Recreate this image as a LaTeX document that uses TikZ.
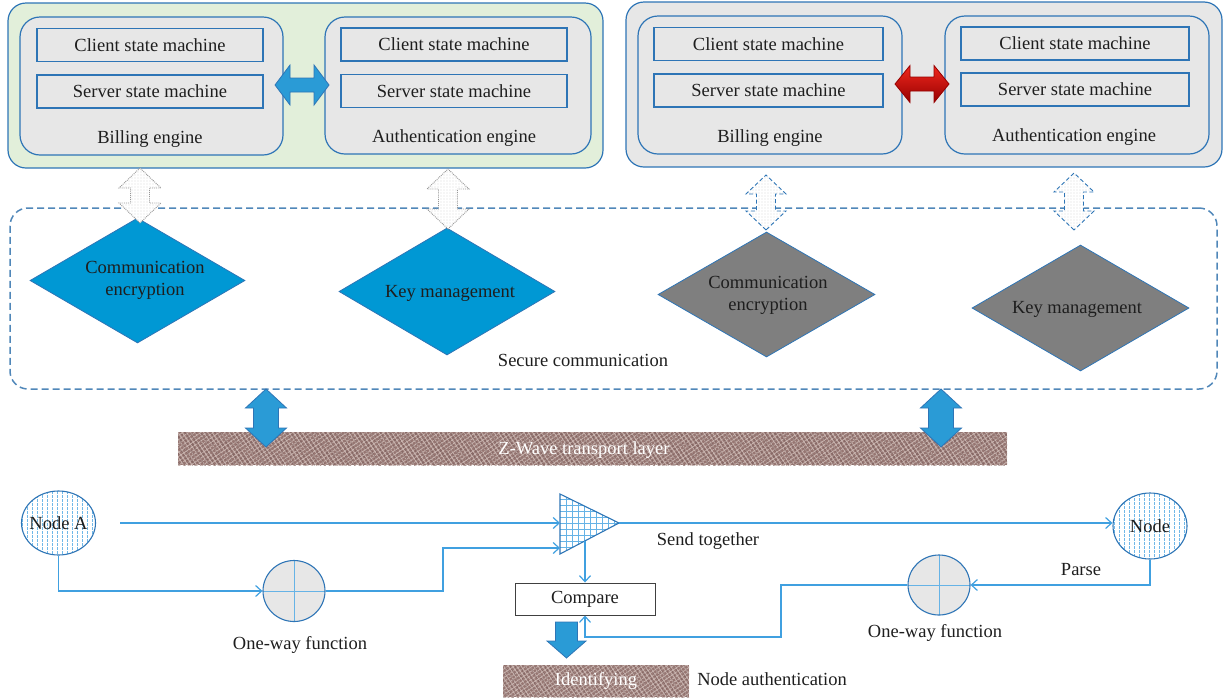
\documentclass[tikz,border=0pt]{standalone}
\usepackage{fontspec}
\setmainfont{Liberation Serif}
\usetikzlibrary{shapes.geometric,arrows.meta,patterns,patterns.meta,calc}
\definecolor{bord}{RGB}{46,117,182}
\definecolor{greenfill}{RGB}{226,239,218}
\definecolor{boxgray}{RGB}{231,231,231}
\definecolor{dblue}{RGB}{0,152,212}
\definecolor{dgray}{RGB}{127,127,127}
\definecolor{ablue}{RGB}{42,155,214}
\definecolor{sdash}{RGB}{80,135,185}
\definecolor{connc}{RGB}{64,160,224}
\definecolor{redtop}{RGB}{240,40,30}
\definecolor{redbot}{RGB}{150,0,0}
\definecolor{barbase}{RGB}{150,118,114}
\definecolor{barlight}{RGB}{200,180,175}
\definecolor{bardark}{RGB}{110,82,80}
\definecolor{dotc}{RGB}{150,150,150}
\definecolor{txt}{RGB}{30,30,30}
\newcommand{\dfont}{\fontsize{18.5}{22}\selectfont}
% block double arrow: #1 style, #2 centre coordinate, #3 half length, #4 head half width, #5 shaft half width, #6 head length, #7 rotation
\newcommand{\blockdbl}[7]{%
  \draw[#1, shift={(#2)}, rotate=#7] (-#3,0) -- (-#3+#6,-#4) -- (-#3+#6,-#5) -- (#3-#6,-#5) -- (#3-#6,-#4) -- (#3,0)
     -- (#3-#6,#4) -- (#3-#6,#5) -- (-#3+#6,#5) -- (-#3+#6,#4) -- cycle;}
\begin{document}
\begin{tikzpicture}[x=1pt,y=-1pt,
  panel/.style={draw=bord, line width=1.2pt, rounded corners=18pt, inner sep=0},
  engine/.style={draw=bord, line width=1.2pt, fill=boxgray, rounded corners=20pt, inner sep=0},
  smbox/.style={draw=bord, line width=1.1pt, fill=boxgray, minimum width=226, minimum height=33, inner sep=0, font=\dfont, text=txt},
  lbl/.style={font=\dfont, inner sep=0, text=txt},
  secure/.style={draw=sdash, line width=1.5pt, dash pattern=on 7pt off 4pt, rounded corners=18pt, inner sep=0},
  dia/.style={diamond, aspect=1.72, inner sep=0, draw=bord, line width=0.8pt, font=\dfont, align=center, text=txt},
  dotarrow/.style={draw=dotc, line width=0.9pt, densely dotted, preaction={fill=white}, pattern={Dots[distance=3pt,radius=0.4pt]}, pattern color=dotc},
  dasharrow/.style={draw=bord, line width=0.9pt, dash pattern=on 4pt off 2.5pt, preaction={fill=white}, pattern={Dots[distance=3pt,radius=0.4pt]}, pattern color=dotc},
  barrow/.style={fill=ablue, draw=bord, line width=0.8pt},
  redarrow/.style={top color=redtop, bottom color=redbot, draw=redbot, line width=0.8pt},
  bar/.style={inner sep=0, preaction={fill=barbase}, pattern={Hatch[angle=35,distance=3.5pt,line width=0.8pt]}, pattern color=barlight, postaction={pattern={Lines[angle=-60,distance=4pt,line width=0.6pt]}, pattern color=bardark}},
  ellnode/.style={ellipse, draw=bord, line width=1.1pt, fill=white, inner sep=0,
    path picture={\foreach \i in {-36,-31,...,36}{\draw[draw=connc!75, line width=0.7pt, dash pattern=on 2.5pt off 1.5pt] ($(path picture bounding box.center)+(\i,-40)$) -- ++(0,80);}}},
  owf/.style={ellipse, draw=bord, line width=1.1pt, fill=boxgray, inner sep=0, minimum width=62, minimum height=61,
    path picture={\draw[connc!80, line width=0.6pt] ($(path picture bounding box.center)+(-40,0)$) -- ++(80,0); \draw[connc!80, line width=0.6pt] ($(path picture bounding box.center)+(0,-40)$) -- ++(0,80);}},
  conn/.style={draw=connc, line width=1.2pt, -{Straight Barb[length=6pt,width=11pt,line width=1.2pt]}},
]
\useasboundingbox (0,0) rectangle (1225,697);

% ---------- top left panel
\node[panel, fill=greenfill, minimum width=595, minimum height=165] (gbox) at (305.5,85.5) {};
\node[engine, minimum width=263, minimum height=138] (bill1) at (151.5,86) {};
\node[smbox] (c1) at (150,45) {Client state machine};
\node[smbox] (s1) at (150,91.5) {Server state machine};
\node[lbl] (bl1) at (150,139) {Billing engine};
\node[engine, minimum width=266, minimum height=137] (auth1) at (458,85.5) {};
\node[smbox] (c2) at (454,44.5) {Client state machine};
\node[smbox] (s2) at (454,91) {Server state machine};
\node[lbl] (al1) at (454,138) {Authentication engine};
\coordinate (bh1) at (302,85);
\blockdbl{barrow}{bh1}{27}{20}{7}{15}{0}

% ---------- top right panel
\node[panel, fill=boxgray, minimum width=596, minimum height=165] (rbox) at (924,84.5) {};
\node[engine, minimum width=264, minimum height=138] (bill2) at (770,85) {};
\node[smbox, minimum width=229] (c3) at (768.5,44) {Client state machine};
\node[smbox, minimum width=229] (s3) at (768.5,90.5) {Server state machine};
\node[lbl] (bl2) at (770,138) {Billing engine};
\node[engine, minimum width=264, minimum height=138] (auth2) at (1077,85) {};
\node[smbox, minimum width=228] (c4) at (1075,43.5) {Client state machine};
\node[smbox, minimum width=228] (s4) at (1075,89.5) {Server state machine};
\node[lbl] (al2) at (1074,137) {Authentication engine};
\coordinate (bh2) at (922,84);
\blockdbl{redarrow}{bh2}{27}{18.5}{7}{15}{0}

% ---------- secure communication
\node[secure, minimum width=1207, minimum height=181] (sec) at (613.5,298.5) {};
\node[lbl] (secl) at (583,360) {Secure communication};
\node[dia, fill=dblue, minimum width=215, minimum height=125] (d1) at (137.5,280.5) {};
\node[lbl, align=center] (d1t) at (145,280) {Communication\\encryption};
\node[dia, fill=dblue, minimum width=216, minimum height=127] (d2) at (447,291.5) {};
\node[lbl] (d2t) at (450,293) {Key management};
\node[dia, fill=dgray, minimum width=217, minimum height=125] (d3) at (766.5,294.5) {};
\node[lbl, align=center] (d3t) at (768,295) {Communication\\encryption};
\node[dia, fill=dgray, minimum width=217, minimum height=126] (d4) at (1080.5,308) {};
\node[lbl] (d4t) at (1077,309) {Key management};

\coordinate (v1) at (140,195.5);
\coordinate (v2) at (448,199);
\coordinate (v3) at (766,202.5);
\coordinate (v4) at (1074,201.5);
\blockdbl{dotarrow}{v1}{27.5}{21}{9.5}{20}{90}
\blockdbl{dotarrow}{v2}{30}{21}{9.5}{20}{90}
\blockdbl{dasharrow}{v3}{27.5}{20}{9.5}{19}{90}
\blockdbl{dasharrow}{v4}{28.5}{20}{9.5}{19}{90}

% ---------- transport layer
\node[bar, minimum width=829, minimum height=33] (zw) at (592.5,448.5) {};
\node[font=\dfont, text=white, inner sep=0] (zwt) at (584,450) {Z-Wave transport layer};
\coordinate (va1) at (266,418);
\coordinate (va2) at (941,418);
\blockdbl{barrow}{va1}{29}{20.5}{12.5}{19}{90}
\blockdbl{barrow}{va2}{29}{20.5}{12.5}{19}{90}

% ---------- node authentication
\node[ellnode, minimum width=74, minimum height=64] (nA) at (58.5,523) {};
\node[lbl] (nAt) at (nA) {Node A};
\node[owf] (ow1) at (294,591) {};
\node[lbl] (owl1) at (300,645) {One-way function};
\coordinate (tL) at (560,494);
\coordinate (tB) at (560,554);
\coordinate (tT) at (619,523);
\draw[draw=bord, line width=1.1pt, fill=white,
  path picture={\foreach \xx in {566,572,...,620}{\draw[connc!80, line width=0.7pt] (\xx,490) -- (\xx,560);}
                \foreach \yy in {499,505,...,555}{\draw[connc!80, line width=0.7pt] (555,\yy) -- (625,\yy);}}]
  (tL) -- (tT) -- (tB) -- cycle;
\coordinate (tIn1) at (560,523);
\coordinate (tIn2) at (560,548);
\coordinate (tOut) at (585,541);
\node[draw=black!75, line width=1pt, fill=white, minimum width=140, minimum height=32, inner sep=0, font=\dfont, text=txt] (cmp) at (585,599) {Compare};
\node[ellnode, minimum width=74, minimum height=66] (nB) at (1150,526) {};
\node[lbl] (nBt) at (nB) {Node};
\node[owf, minimum height=60] (ow2) at (939,585) {};
\node[lbl] (owl2) at (935,633) {One-way function};
\node[lbl] (send) at (708,541) {Send together};
\node[lbl] (parse) at (1081,570) {Parse};

\coordinate (j1) at (443,548);
\coordinate (j2) at (781,637);
\draw[conn] ([xshift=24pt]nA.east) -- (tIn1);
\draw[conn] (nA.south) |- (ow1.west);
\draw[conn] (ow1.east) -| (j1) -- (tIn2);
\draw[conn] (tOut) -- (cmp.north);
\draw[conn] (tT) -- (tT -| nB.west);
\draw[conn] (nB.south) |- (ow2.east);
\draw[conn] (ow2.west) -| (j2) -- (j2 -| cmp.south) -- (cmp.south);

\coordinate (dn) at (566.5,622);
\draw[barrow, shift={(dn)}] (-11,0) -- (11,0) -- (11,19) -- (19.5,19) -- (0,36) -- (-19.5,19) -- (-11,19) -- cycle;
\node[bar, minimum width=186, minimum height=32] (idf) at (596,681) {};
\node[font=\dfont, text=white, inner sep=0] (idft) at (idf) {Identifying};
\node[lbl] (nauth) at (772,679) {Node authentication};
\end{tikzpicture}
\end{document}
